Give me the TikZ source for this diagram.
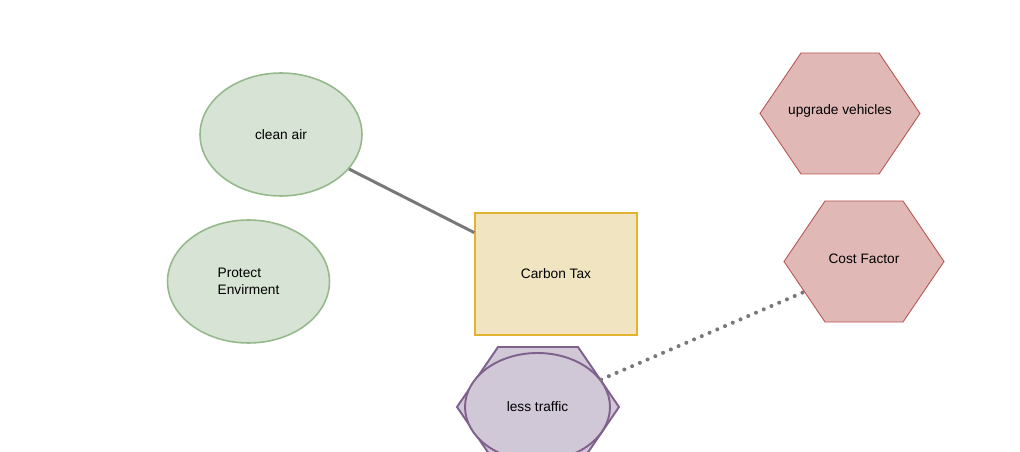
\documentclass[tikz,border=0pt]{standalone}
\usepackage{fontspec}
\setmainfont{Liberation Sans}
\usetikzlibrary{shapes.geometric}
\definecolor{grnfill}{RGB}{215,227,212}
\definecolor{grnline}{RGB}{150,185,140}
\definecolor{ylwfill}{RGB}{241,229,193}
\definecolor{ylwline}{RGB}{228,178,50}
\definecolor{redfill}{RGB}{224,185,182}
\definecolor{redline}{RGB}{184,84,80}
\definecolor{prpfill}{RGB}{208,200,214}
\definecolor{prpline}{RGB}{128,96,140}
\definecolor{linkgray}{RGB}{120,120,120}

\begin{document}
\begin{tikzpicture}[x = 0.02cm, y = -0.02cm, font = \fontsize{7.8}{9.6}\selectfont,
  goal/.style = {ellipse, draw = grnline, fill = grnfill, line width = 0.9pt,
    minimum width = 3.24cm, minimum height = 2.46cm, inner sep = 0pt},
  tax/.style = {rectangle, draw = ylwline, fill = ylwfill, line width = 0.9pt,
    minimum width = 3.24cm, minimum height = 2.44cm},
  hexred/.style = {draw = redline, fill = redfill, line width = 0.5pt},
  hexprp/.style = {draw = prpline, fill = prpfill, line width = 1.1pt},
  jam/.style = {ellipse, draw = prpline, fill = prpfill, line width = 1.1pt,
    minimum width = 2.9cm, minimum height = 2.16cm, inner sep = 0pt},
  solidlink/.style = {draw = linkgray, line width = 1.7pt},
  dotlink/.style = {draw = linkgray, line width = 2.3pt, line cap = round,
    dash pattern = on 0pt off 4.8pt}]
\useasboundingbox (0,0) rectangle (1020,452);
% hexagons
\filldraw [hexred] (760,113.5) -- (801,53) -- (879,53) -- (920,113.5) -- (879,174) -- (801,174) -- cycle;
\filldraw [hexred] (784,261.5) -- (825,201) -- (903,201) -- (944,261.5) -- (903,322) -- (825,322) -- cycle;
\filldraw [hexprp] (457,407) -- (498,347) -- (578,347) -- (619,407) -- (578,467) -- (498,467) -- cycle;
% nodes
\node [goal] (air) at (281,134.5) {clean air};
\node [goal, align = left] (env) at (248.5,281.5) {Protect\\Envirment};
\node [tax] (carbon) at (556,274) {Carbon Tax};
\node (upgrade) at (840,111) {upgrade vehicles};
\node (cost) at (864,258.5) {Cost Factor};
\node [jam] (traffic) at (537.5,407) {less traffic};
\coordinate (costedge) at (804.5,291.75);
% links
\draw [solidlink] (air) -- (carbon);
\draw [dotlink] (traffic) -- (costedge);
\end{tikzpicture}
\end{document}
